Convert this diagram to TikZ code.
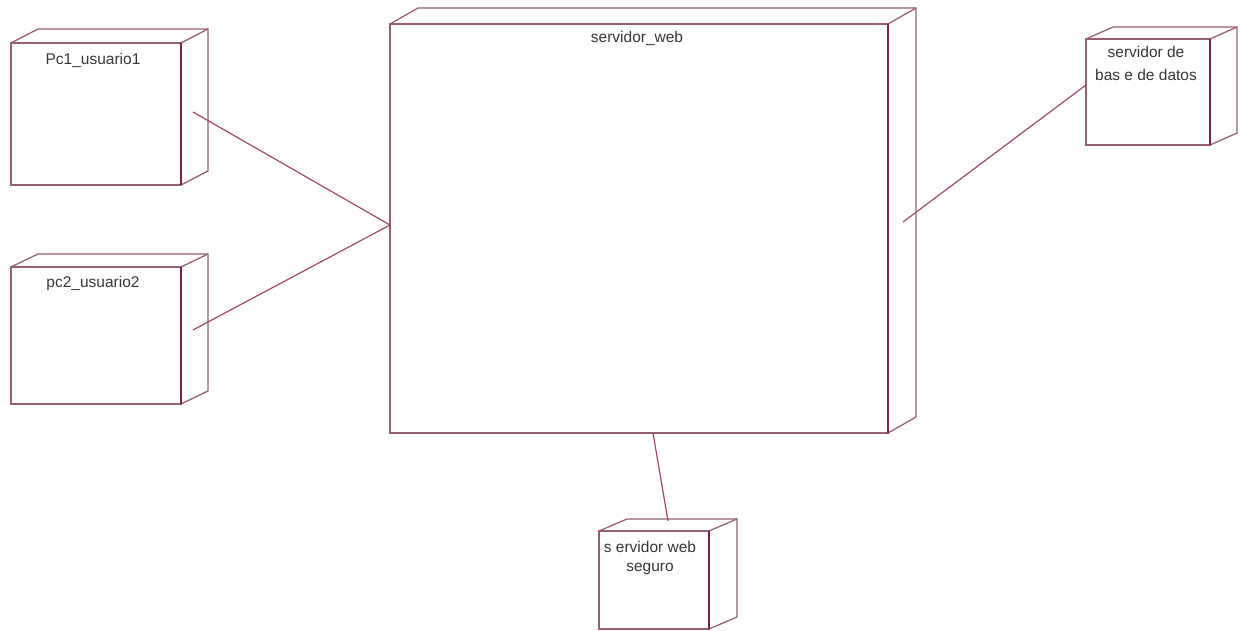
\documentclass[tikz,border=0pt]{standalone}
\usepackage{fontspec}
\setmainfont{Liberation Sans}
\definecolor{edgecol}{RGB}{150,95,115}
\definecolor{darkedge}{RGB}{130,30,75}
\definecolor{linkcol}{RGB}{165,70,105}
\definecolor{txtcol}{RGB}{55,55,55}
\tikzset{
  front/.style={draw=edgecol, line width=1.3pt, fill=white, inner sep=0pt, outer sep=0pt},
  edge/.style={draw=edgecol, line width=1.3pt, line join=miter},
  rightedge/.style={draw=darkedge, line width=2pt},
  link/.style={draw=linkcol, line width=1.2pt},
  lbl/.style={font=\fontsize{15.5}{19}\selectfont, text=txtcol, align=center, inner sep=0pt, anchor=north}
}
% #1 name, #2 x, #3 y, #4 width, #5 height, #6 depth x, #7 depth y
\newcommand\cubenode[7]{%
  \node[front, minimum width=#4, minimum height=#5, anchor=north west] (#1) at (#2,#3) {};
  \draw[edge] (#1.north west) -- ++(#6,-#7) -- ($(#1.north east)+(#6,-#7)$)
    -- ($(#1.south east)+(#6,-#7)$) -- (#1.south east);
  \draw[edge] (#1.north east) -- ($(#1.north east)+(#6,-#7)$);
  \draw[rightedge] (#1.north east) -- (#1.south east);
}
\usetikzlibrary{calc}
\begin{document}
\begin{tikzpicture}[x=1pt,y=-1pt]
\useasboundingbox (0,0) rectangle (1243,631);

\cubenode{pc1}{11}{43}{170}{142}{27}{14}
\cubenode{pc2}{11}{267}{170}{137}{27}{13}
\cubenode{web}{390}{24}{498}{409}{28}{16}
\cubenode{db}{1086}{39}{124}{106}{27}{12}
\cubenode{seg}{599}{531}{110}{98}{28}{12}

\node[lbl] (pc1lbl) at (93,53) {Pc1\_usuario1};
\node[lbl] (pc2lbl) at (93,276) {pc2\_usuario2};
\node[lbl] (weblbl) at (637,31) {servidor\_web};
\node[lbl, font=\fontsize{15.5}{23}\selectfont] (dblbl) at (1146,46) {servidor de\\bas e de datos};
\node[lbl] (seglbl) at (650,541) {s ervidor web\\seguro};

% connection points on the side and top faces
\coordinate (pc1side) at (193,112);
\coordinate (pc2side) at (193,330);
\coordinate (webside) at (903,222);
\coordinate (webwest) at (390,225);
\coordinate (webbottom) at (653,433);
\coordinate (dbwest) at (1086,85);
\coordinate (segtop) at (668,521);

\draw[link] (pc1side) -- (webwest);
\draw[link] (pc2side) -- (webwest);
\draw[link] (webside) -- (dbwest);
\draw[link] (webbottom) -- (segtop);
\end{tikzpicture}
\end{document}
